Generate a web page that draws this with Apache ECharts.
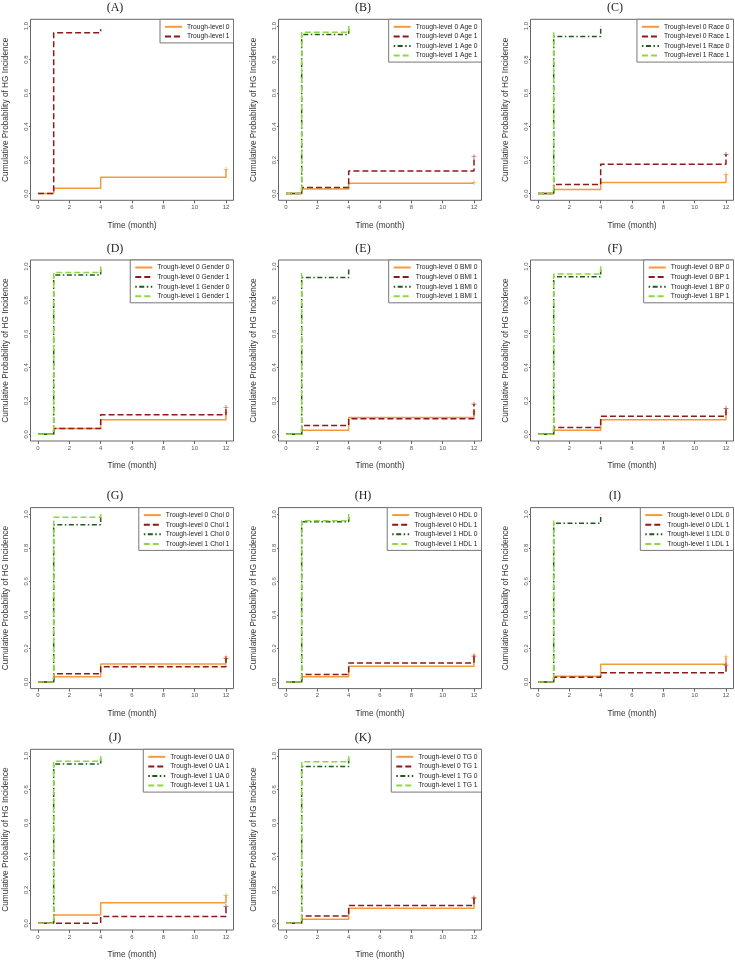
<!DOCTYPE html>
<html><head><meta charset="utf-8">
<script src="https://cdn.jsdelivr.net/npm/echarts@6/dist/echarts.min.js"></script>
<style>html,body{margin:0;padding:0;background:#fff}#c{width:735px;height:960px}</style>
</head><body><div id="c"></div>
<script>
// ---- data ----
const timesTL0 = [0, 1, 4, 12];
const timesTL1 = [0, 1, 4];
const panelLabels = ['(A)','(B)','(C)','(D)','(E)','(F)','(G)','(H)','(I)','(J)','(K)'];
const covariates = ['', 'Age', 'Race', 'Gender', 'BMI', 'BP', 'Chol', 'HDL', 'LDL', 'UA', 'TG'];
const xTickValues = [0, 2, 4, 6, 8, 10, 12];
const yTickValues = [0, 0.2, 0.4, 0.6, 0.8, 1.0];

const A_TL0 = [0, 0.032, 0.098, 0.145];
const A_TL1 = [0, 0.96, 0.98];

const B_TL0_0 = [0, 0.028, 0.062, 0.066];
const B_TL0_1 = [0, 0.036, 0.135, 0.22];
const B_TL1_0 = [0, 0.95, 1.0];
const B_TL1_1 = [0, 0.962, 1.0];

const C_TL0_0 = [0, 0.024, 0.066, 0.115];
const C_TL0_1 = [0, 0.054, 0.175, 0.233];
const C_TL1_0 = [0, 0.938, 1.0];
const C_TL1_1 = [0, 0.98];

const D_TL0_0 = [0, 0.034, 0.087, 0.13];
const D_TL0_1 = [0, 0.034, 0.116, 0.16];
const D_TL1_0 = [0, 0.95, 1.0];
const D_TL1_1 = [0, 0.965, 1.0];

const E_TL0_0 = [0, 0.024, 0.10, 0.136];
const E_TL0_1 = [0, 0.053, 0.093, 0.18];
const E_TL1_0 = [0, 0.935, 0.99];
const E_TL1_1 = [0, 0.975];

const F_TL0_0 = [0, 0.024, 0.087, 0.13];
const F_TL0_1 = [0, 0.04, 0.108, 0.155];
const F_TL1_0 = [0, 0.94, 1.0];
const F_TL1_1 = [0, 0.957, 1.0];

const G_TL0_0 = [0, 0.03, 0.107, 0.15];
const G_TL0_1 = [0, 0.048, 0.091, 0.14];
const G_TL1_0 = [0, 0.938, 1.0];
const G_TL1_1 = [0, 0.982, 1.0];

const H_TL0_0 = [0, 0.03, 0.093, 0.16];
const H_TL0_1 = [0, 0.044, 0.113, 0.15];
const H_TL1_0 = [0, 0.955, 1.0];
const H_TL1_1 = [0, 0.962, 1.0];

const I_TL0_0 = [0, 0.034, 0.105, 0.15];
const I_TL0_1 = [0, 0.028, 0.054, 0.10];
const I_TL1_0 = [0, 0.946, 1.0];
const I_TL1_1 = [0, 0.976];

const J_TL0_0 = [0, 0.05, 0.123, 0.167];
const J_TL0_1 = [0, 0.0, 0.04, 0.10];
const J_TL1_0 = [0, 0.952, 1.0];
const J_TL1_1 = [0, 0.968, 1.0];

const K_TL0_0 = [0, 0.024, 0.09, 0.153];
const K_TL0_1 = [0, 0.044, 0.107, 0.15];
const K_TL1_0 = [0, 0.937, 1.0];
const K_TL1_1 = [0, 0.966, 1.0];

const panelCurves = [
  [A_TL0, A_TL1],
  [B_TL0_0, B_TL0_1, B_TL1_0, B_TL1_1],
  [C_TL0_0, C_TL0_1, C_TL1_0, C_TL1_1],
  [D_TL0_0, D_TL0_1, D_TL1_0, D_TL1_1],
  [E_TL0_0, E_TL0_1, E_TL1_0, E_TL1_1],
  [F_TL0_0, F_TL0_1, F_TL1_0, F_TL1_1],
  [G_TL0_0, G_TL0_1, G_TL1_0, G_TL1_1],
  [H_TL0_0, H_TL0_1, H_TL1_0, H_TL1_1],
  [I_TL0_0, I_TL0_1, I_TL1_0, I_TL1_1],
  [J_TL0_0, J_TL0_1, J_TL1_0, J_TL1_1],
  [K_TL0_0, K_TL0_1, K_TL1_0, K_TL1_1]
];

// ---- styles / layout ----
const W = 735;
const colLeft = [30.5, 278.5, 530.5];
const rowTop = [19.3, 260, 507.6, 749.3];
const gW = 203, gH = 181;
const ORANGE = '#F39A3B', DARKRED = '#8B1A1A', DARKGREEN = '#1E5A1E', LIGHTGREEN = '#8FD83F';
const styles4 = [
  {color: ORANGE, type: 'solid', tl: 0},
  {color: DARKRED, type: [6, 3], tl: 0},
  {color: DARKGREEN, type: [1.5, 2.5, 5, 2.5], tl: 1},
  {color: LIGHTGREEN, type: [6, 3], tl: 1}
];
const styles2 = [
  {color: ORANGE, type: 'solid', tl: 0},
  {color: DARKRED, type: [6, 3], tl: 1}
];
const SANS = 'Liberation Sans, Arial, sans-serif';
const SERIF = 'Liberation Serif, Times New Roman, serif';
const plusPath = 'path://M-0.14,-1H0.14V-0.14H1V0.14H0.14V1H-0.14V0.14H-1V-0.14H-0.14Z';

const grids = [], xAxes = [], yAxes = [], series = [], legends = [], graphics = [];

panelCurves.forEach((curves, i) => {
  const r = Math.floor(i / 3), c = i % 3;
  const left = colLeft[c], top = rowTop[r];
  grids.push({left: left, top: top, width: gW, height: gH, show: true,
    borderColor: '#666', borderWidth: 1, backgroundColor: 'transparent', containLabel: false});
  xAxes.push({type: 'value', gridIndex: i, min: -0.48, max: 12.48,
    axisLine: {show: false, onZero: false}, splitLine: {show: false},
    axisTick: {show: true, customValues: xTickValues, length: 3, lineStyle: {color: '#666'}},
    axisLabel: {customValues: xTickValues, fontSize: 6, color: '#555', fontFamily: SANS, margin: 4},
    name: 'Time (month)', nameLocation: 'middle', nameGap: 21, nameMoveOverlap: false,
    nameTextStyle: {fontSize: 8.3, color: '#333', fontFamily: SANS}});
  yAxes.push({type: 'value', gridIndex: i, min: -0.04, max: 1.04,
    axisLine: {show: false, onZero: false}, splitLine: {show: false},
    axisTick: {show: true, customValues: yTickValues, length: 1.5, lineStyle: {color: '#666'}},
    axisLabel: {customValues: yTickValues, fontSize: 6, color: '#555', fontFamily: SANS,
      rotate: 90, margin: 1.5, formatter: v => v.toFixed(1)},
    name: 'Cumulative Probability of HG Incidence', nameLocation: 'middle', nameGap: 21, nameMoveOverlap: false,
    nameTextStyle: {fontSize: 8.3, color: '#333', fontFamily: SANS}});

  const st = curves.length === 2 ? styles2 : styles4;
  const names = [];
  curves.forEach((vals, k) => {
    const s = st[k];
    let name;
    if (curves.length === 2) name = 'Trough-level ' + k;
    else name = 'Trough-level ' + s.tl + ' ' + covariates[i] + ' ' + (k % 2);
    names.push(name);
    const times = vals.length === 4 ? timesTL0 : timesTL1;
    series.push({type: 'line', name: name, xAxisIndex: i, yAxisIndex: i,
      data: vals.map((v, j) => [times[j], v]), step: 'end', symbol: 'none',
      lineStyle: {color: s.color, width: 1.5, type: s.type}, itemStyle: {color: s.color},
      animation: false, silent: true, z: 2 + k});
    if (vals.length === 4) {
      series.push({type: 'scatter', name: name + ' censored', xAxisIndex: i, yAxisIndex: i,
        data: [[times[3], vals[3]]], symbol: plusPath, symbolSize: 5,
        itemStyle: {color: s.color}, animation: false, silent: true, z: 2 + k});
    }
  });
  legends.push({data: names, orient: 'vertical', right: W - (left + gW), top: top,
    padding: [4, 4, 3, 4], itemWidth: 17, itemHeight: 6, itemGap: 2.6,
    itemStyle: {opacity: 0, borderWidth: 0},
    borderColor: '#777', borderWidth: 1, backgroundColor: '#fff',
    textStyle: {fontSize: 6.7, color: '#222', fontFamily: SANS}, selectedMode: false});
  graphics.push({type: 'text', x: left + gW / 2 - 17, y: top - 11.3,
    style: {text: panelLabels[i], font: '12px ' + SERIF, fill: '#222', align: 'center', verticalAlign: 'middle'}});
});

const chart = echarts.init(document.getElementById('c'), null, {renderer: 'canvas'});
chart.setOption({
  animation: false,
  backgroundColor: '#fff',
  grid: grids, xAxis: xAxes, yAxis: yAxes, series: series, legend: legends, graphic: graphics
});
</script>
</body></html>
